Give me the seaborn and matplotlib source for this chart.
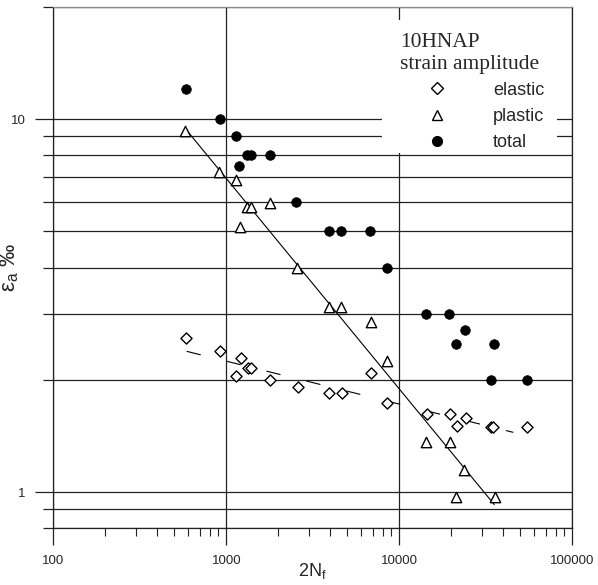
import matplotlib
matplotlib.use("Agg")
import matplotlib.pyplot as plt
import numpy as np
import seaborn as sns
from matplotlib.lines import Line2D
from matplotlib.patches import Rectangle
from matplotlib.ticker import FixedLocator, FixedFormatter, NullFormatter

# 2Nf (reversals to failure) and strain amplitude in per mille
elastic_n = [584, 922, 1211, 1137, 1340, 1390, 1789, 2588, 3938, 4645,
             6833, 8455, 14390, 19630, 24210, 21480, 33740, 35000, 54500]
elastic_eps = [2.59, 2.39, 2.29, 2.05, 2.15, 2.15, 2.00, 1.92, 1.84, 1.84,
               2.09, 1.73, 1.62, 1.62, 1.58, 1.51, 1.50, 1.50, 1.50]

plastic_n = [578, 911, 1137, 1312, 1383, 1199, 1789, 2553, 3927, 4605,
             6855, 8455, 14220, 19630, 23770, 21180, 35730]
plastic_eps = [9.3, 7.2, 6.86, 5.8, 5.8, 5.14, 5.95, 4.0, 3.13, 3.13,
               2.86, 2.25, 1.36, 1.36, 1.15, 0.97, 0.97]

total_n = [584, 922, 1137, 1312, 1383, 1189, 1789, 2529, 3927, 4605,
           6777, 8455, 14260, 19370, 23990, 21180, 35230, 33740, 54700]
total_eps = [12.0, 10.0, 9.0, 8.0, 8.0, 7.5, 8.0, 6.0, 5.0, 5.0,
             5.0, 4.0, 3.0, 3.0, 2.73, 2.49, 2.49, 2.0, 2.0]

# power law fits eps = coef * (2Nf)^exponent, over the drawn range
elastic_coef, elastic_exp, elastic_range = 4.97, -0.115, [590, 45600]
plastic_coef, plastic_exp, plastic_range = 341.0, -0.564, [590, 35400]

x_major = [100, 1000, 10000, 100000]
x_minor = [m * d for d in (100, 1000, 10000) for m in range(2, 10)]
y_major = [1, 10]
y_minor = [0.8, 0.9, 2, 3, 4, 5, 6, 7, 8, 9, 20]

sns.set_style("white")
plt.rcParams["font.family"] = ["Liberation Sans", "DejaVu Sans"]
plt.rcParams["mathtext.fontset"] = "custom"
plt.rcParams["mathtext.rm"] = "Liberation Sans"
plt.rcParams["mathtext.it"] = "Liberation Sans"

fig = plt.figure(figsize=(5.98, 5.85), dpi=100)
ax = fig.add_axes([0.0891, 0.0966, 0.868, 0.892])
ax.set_xscale("log")
ax.set_yscale("log")
ax.set_xlim(100, 100000)
ax.set_ylim(0.8, 20)

# fit lines
fx = np.array(elastic_range, dtype=float)
sns.lineplot(x=fx, y=elastic_coef * fx ** elastic_exp, ax=ax, color="black",
             linewidth=0.8, zorder=2)
ax.lines[-1].set_dashes((13, 24))
px = np.array(plastic_range, dtype=float)
sns.lineplot(x=px, y=plastic_coef * px ** plastic_exp, ax=ax, color="black",
             linewidth=0.8, zorder=2)

# data points
sns.scatterplot(x=elastic_n, y=elastic_eps, ax=ax, marker="D", s=32,
                color="white", edgecolor="black", linewidth=1.0, zorder=4)
sns.scatterplot(x=plastic_n, y=plastic_eps, ax=ax, marker="^", s=56,
                color="white", edgecolor="black", linewidth=1.0, zorder=4)
sns.scatterplot(x=total_n, y=total_eps, ax=ax, marker="o", s=48,
                color="black", edgecolor="black", linewidth=0.5, zorder=4)

# ticks and grid
ax.xaxis.set_major_locator(FixedLocator(x_major))
ax.xaxis.set_major_formatter(FixedFormatter([str(v) for v in x_major]))
ax.xaxis.set_minor_locator(FixedLocator(x_minor))
ax.xaxis.set_minor_formatter(NullFormatter())
ax.yaxis.set_major_locator(FixedLocator(y_major))
ax.yaxis.set_major_formatter(FixedFormatter([str(v) for v in y_major]))
ax.yaxis.set_minor_locator(FixedLocator(y_minor))
ax.yaxis.set_minor_formatter(NullFormatter())

ax.tick_params(axis="x", which="major", bottom=True, direction="out",
               length=12, width=0.9, pad=7, labelsize=9.5, color="#222222")
ax.tick_params(axis="x", which="minor", bottom=True, direction="out",
               length=6, width=0.8, color="#222222")
ax.tick_params(axis="y", which="major", left=True, direction="out",
               length=13, width=0.9, pad=7, labelsize=9.5, color="#222222")
ax.tick_params(axis="y", which="minor", left=True, direction="out",
               length=7, width=0.9, color="#222222")
ax.set_axisbelow(True)
ax.grid(which="major", axis="x", color="#222222", linewidth=0.9)
ax.grid(which="both", axis="y", color="#222222", linewidth=0.9)
for side, spine in ax.spines.items():
    spine.set_color("#222222")
    spine.set_linewidth(0.9)
ax.spines["top"].set_color("#888888")

ax.set_xlabel("2N$_\\mathrm{f}$", fontsize=13)
ax.xaxis.set_label_coords(0.5, -0.062)
ax.set_ylabel("\u03b5$_\\mathrm{a}$ \u2030", fontsize=16)
ax.yaxis.set_label_coords(-0.062, 0.5)

# legend block
ax.add_patch(Rectangle((0.633, 0.72), 0.3375, 0.254, transform=ax.transAxes,
                       facecolor="white", edgecolor="none", zorder=3))
serif = ["Liberation Serif", "DejaVu Serif"]
ax.text(0.668, 0.9226, "10HNAP", transform=ax.transAxes, fontsize=15.5,
        family=serif, va="baseline", zorder=6)
ax.text(0.668, 0.8804, "strain amplitude", transform=ax.transAxes,
        fontsize=15.5, family=serif, va="baseline", zorder=6)
handles = [
    Line2D([], [], marker="D", ls="none", ms=6, mfc="white", mec="black", mew=1.0),
    Line2D([], [], marker="^", ls="none", ms=6.5, mfc="white", mec="black", mew=1.0),
    Line2D([], [], marker="o", ls="none", ms=7, mfc="black", mec="black"),
]
leg = ax.legend(handles, ["elastic", "plastic", "total"], loc="upper left",
                bbox_to_anchor=(0.722, 0.856), frameon=False, fontsize=13,
                handlelength=1.0, handletextpad=2.6, borderpad=0,
                borderaxespad=0, labelspacing=0.5)
leg.set_zorder(6)

fig.savefig("out.png", dpi=100)
